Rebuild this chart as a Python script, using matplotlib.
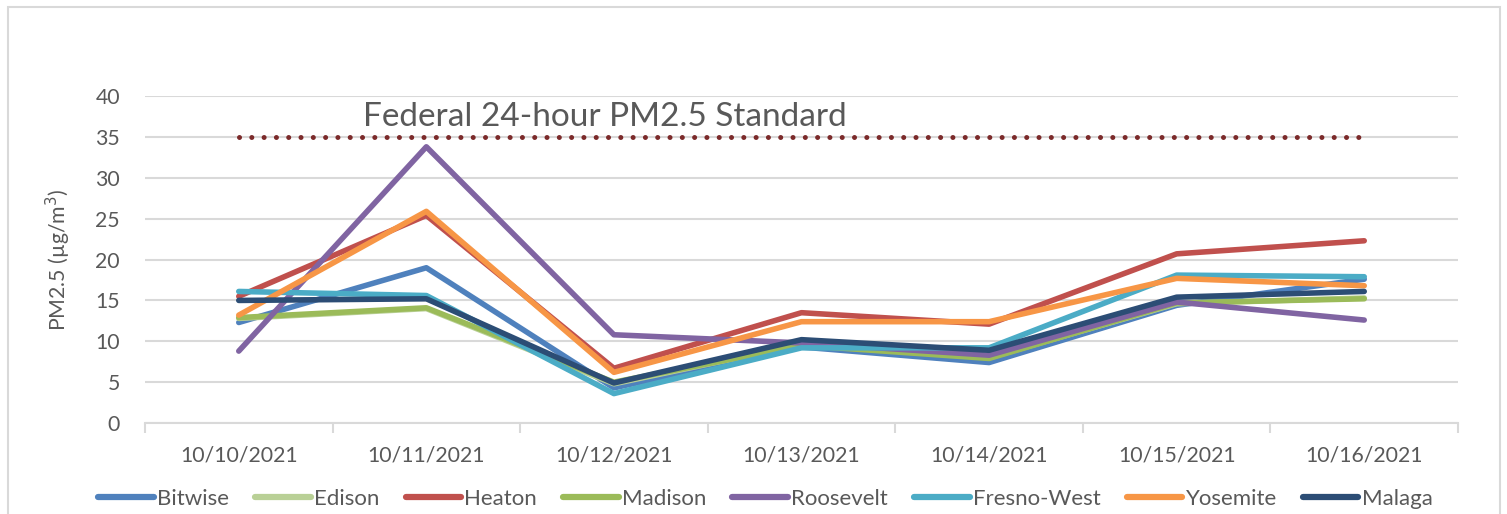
import matplotlib.pyplot as plt

plt.rcParams['font.family'] = ['Lato', 'DejaVu Sans']

dates = ['10/10/2021', '10/11/2021', '10/12/2021', '10/13/2021',
         '10/14/2021', '10/15/2021', '10/16/2021']

# PM2.5 daily averages (ug/m3) per monitor
bitwise = [12.3, 19.0, 4.3, 9.3, 7.4, 14.4, 17.6]
edison = [12.8, 14.0, 4.8, 9.6, 8.0, 14.6, 15.3]
heaton = [15.5, 25.4, 6.7, 13.5, 12.1, 20.7, 22.3]
madison = [12.9, 14.1, 5.0, 9.5, 7.9, 14.7, 15.2]
roosevelt = [8.8, 33.8, 10.8, 9.8, 8.3, 14.8, 12.6]
fresno_west = [16.1, 15.6, 3.6, 9.2, 9.2, 18.1, 17.9]
yosemite = [13.2, 25.9, 6.2, 12.4, 12.4, 17.7, 16.8]
malaga = [15.0, 15.2, 4.9, 10.2, 8.9, 15.4, 16.1]

standard = 35

series = [
    ('Bitwise', bitwise, '#4F81BD'),
    ('Edison', edison, '#B9D096'),
    ('Heaton', heaton, '#C0504D'),
    ('Madison', madison, '#9BBB59'),
    ('Roosevelt', roosevelt, '#8064A2'),
    ('Fresno-West', fresno_west, '#4BACC6'),
    ('Yosemite', yosemite, '#F79646'),
    ('Malaga', malaga, '#2C4D75'),
]

txt = '#595959'
grid = '#D9D9D9'

fig = plt.figure(figsize=(15.07, 5.14), dpi=100)
ax = fig.add_axes([0.0962, 0.177, 0.8713, 0.636])

# outer chart border
fig.patches.append(plt.Rectangle((8 / 1507, -0.1), (1500 - 8) / 1507, 1.1 - 7 / 514,
                                 transform=fig.transFigure, fill=False,
                                 edgecolor=grid, lw=1.5))

x = list(range(len(dates)))
for name, vals, col in series:
    ax.plot(x, vals, color=col, lw=4, label=name,
            solid_capstyle='round', solid_joinstyle='round')

# federal standard line
ax.plot(x, [standard] * len(x), color='#7B2A2A', lw=3.6,
        dashes=[0.01, 2.45], dash_capstyle='round')
ax.text(1.95, 36.3, 'Federal 24-hour PM2.5 Standard', ha='center',
        va='baseline', fontsize=24, color=txt)

ax.set_xlim(-0.5, len(dates) - 0.5)
ax.set_ylim(0, 40)
ax.set_yticks(range(0, 41, 5))
ax.yaxis.grid(True, color=grid, lw=1.5)
ax.set_axisbelow(True)

ax.set_xticks([i - 0.5 for i in range(len(dates) + 1)])
ax.set_xticklabels([])
ax.set_xticks(x, minor=True)
ax.set_xticklabels(dates, minor=True)
ax.tick_params(axis='x', which='major', length=7, width=1.5, color=grid)
ax.tick_params(axis='x', which='minor', length=0, pad=16, labelsize=15.3, labelcolor=txt)
ax.tick_params(axis='y', length=0, pad=18, labelsize=15.3, labelcolor=txt)

for s in ['top', 'right', 'left']:
    ax.spines[s].set_visible(False)
ax.spines['bottom'].set_color(grid)
ax.spines['bottom'].set_linewidth(1.5)

ax.set_ylabel('PM2.5 (µg/m$^3$)', fontsize=15.3, color=txt, labelpad=16)

leg = fig.legend(loc='center', bbox_to_anchor=(0.508, 0.029), ncol=8,
                 frameon=False, fontsize=16, handlelength=2.5, handletextpad=0.15,
                 columnspacing=1.17, labelcolor=txt)
for h in leg.get_lines():
    h.set_linewidth(4.5)

plt.savefig('out.png', dpi=100)
